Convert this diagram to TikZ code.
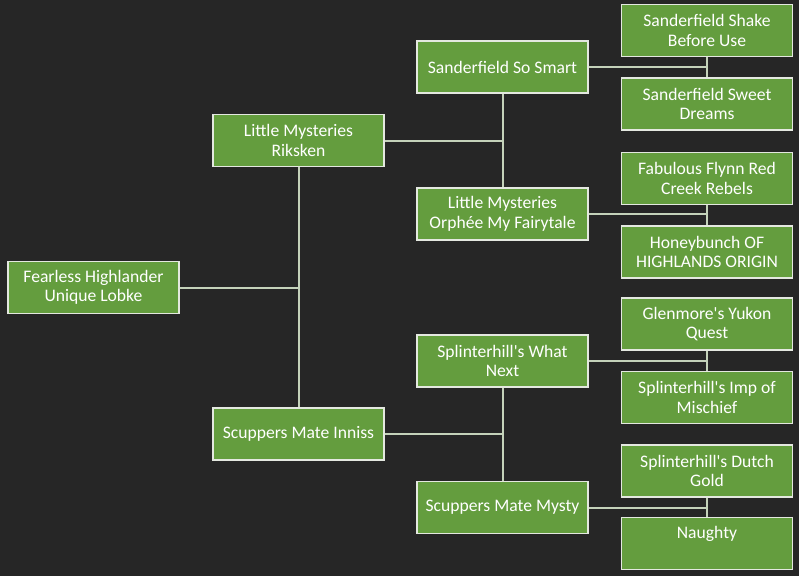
\documentclass[tikz,border=0pt]{standalone}
\usepackage{fontspec}
\setmainfont{Carlito}
\definecolor{bgc}{RGB}{38,38,38}
\definecolor{boxg}{RGB}{100,157,62}
\definecolor{boxb}{RGB}{228,232,224}
\definecolor{linec}{RGB}{196,210,186}
\newcommand{\apos}{\textquotesingle}
\begin{document}
\begin{tikzpicture}[x=1pt,y=-1pt,
  pbox/.style={draw=boxb, line width=1.4pt, fill=boxg, text=white,
    minimum width=171pt, minimum height=52pt, inner sep=0pt,
    align=center, font=\fontsize{17.6}{19.5}\selectfont},
  conn/.style={draw=linec, line width=2pt}]
\fill[bgc] (0,0) rectangle (799,576);
\useasboundingbox (0,0) rectangle (799,576);
% level 1
\node[pbox] (fear) at (93.5,287.5) {Fearless Highlander\\Unique Lobke};
% level 2
\node[pbox] (rik) at (298.5,140.5) {Little Mysteries\\Riksken};
\node[pbox] (inn) at (298.5,434) {Scuppers Mate Inniss};
% level 3
\node[pbox] (smart) at (502.5,67) {Sanderfield So Smart};
\node[pbox] (orph) at (502.5,214) {Little Mysteries\\Orphée My Fairytale};
\node[pbox] (what) at (502.5,361) {Splinterhill\apos s What\\Next};
\node[pbox] (mysty) at (502.5,507.5) {Scuppers Mate Mysty};
% level 4
\node[pbox] (shake) at (707,30.5) {Sanderfield Shake\\Before Use};
\node[pbox] (sweet) at (707,104) {Sanderfield Sweet\\Dreams};
\node[pbox] (fab) at (707,178.5) {Fabulous Flynn Red\\Creek Rebels};
\node[pbox] (honey) at (707,252) {Honeybunch OF\\HIGHLANDS ORIGIN};
\node[pbox] (glen) at (707,324) {Glenmore\apos s Yukon\\Quest};
\node[pbox] (imp) at (707,397.5) {Splinterhill\apos s Imp of\\Mischief};
\node[pbox] (dutch) at (707,471) {Splinterhill\apos s Dutch\\Gold};
\node[pbox] (naughty) at (707,543.5) {\raisebox{2pt}{Naughty}\\\mbox{}};
% connectors level 1-2
\draw[conn] (rik.south) -- (inn.north);
\draw[conn] (fear.east) -- (fear.east -| rik.south);
% level 2-3
\draw[conn] (smart.south) -- (orph.north);
\draw[conn] (rik.east) -- (rik.east -| smart.south);
\draw[conn] (what.south) -- (mysty.north);
\draw[conn] (inn.east) -- (inn.east -| what.south);
% level 3-4
\draw[conn] (shake.south) -- (sweet.north);
\draw[conn] (smart.east) -- (smart.east -| shake.south);
\draw[conn] (fab.south) -- (honey.north);
\draw[conn] (orph.east) -- (orph.east -| fab.south);
\draw[conn] (glen.south) -- (imp.north);
\draw[conn] (what.east) -- (what.east -| glen.south);
\draw[conn] (dutch.south) -- (naughty.north);
\draw[conn] (mysty.east) -- (mysty.east -| dutch.south);
\end{tikzpicture}
\end{document}
